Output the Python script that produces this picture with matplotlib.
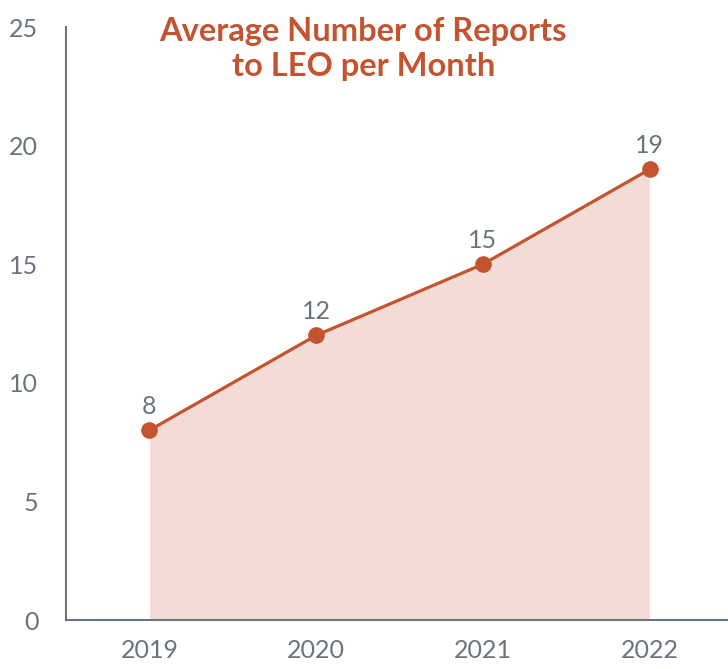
import matplotlib.pyplot as plt
import numpy as np

plt.rcParams.update({
    "font.family": ["Lato", "DejaVu Sans"],
    "font.size": 18,
})

years = ['2019', '2020', '2021', '2022']
reports = [8, 12, 15, 19]

line_color = '#c4532f'
fill_color = '#f3dcd5'
gray = '#6b737c'

x = np.arange(len(years))

fig = plt.figure(figsize=(7.28, 6.69), dpi=100)
ax = fig.add_axes([0.0907, 0.0732, 0.9093, 0.8864])

ax.fill_between(x, reports, 0, color=fill_color, linewidth=0, zorder=1)
ax.plot(x, reports, color=line_color, linewidth=2.3, marker='o',
        markersize=11, zorder=3)

for xi, v in zip(x, reports):
    ax.annotate(str(v), (xi, v), xytext=(0, 17), textcoords='offset points',
                ha='center', va='center', color=gray, fontsize=18)

ax.set_xlim(-0.5, 3.47)
ax.set_ylim(0, 25)
ax.set_xticks(x)
ax.set_xticklabels(years)
ax.set_yticks([0, 5, 10, 15, 20, 25])
ax.tick_params(length=0, colors=gray, labelsize=18)
ax.tick_params(axis='x', pad=14)
ax.tick_params(axis='y', pad=20)

for s in ['top', 'right']:
    ax.spines[s].set_visible(False)
for s in ['left', 'bottom']:
    ax.spines[s].set_color(gray)
    ax.spines[s].set_linewidth(1.5)

fig.text(0.499, 0.927, 'Average Number of Reports\nto LEO per Month',
         ha='center', va='center', color=line_color, fontsize=23.5,
         fontweight='bold', linespacing=1.25)

fig.savefig('out.png', dpi=100)
